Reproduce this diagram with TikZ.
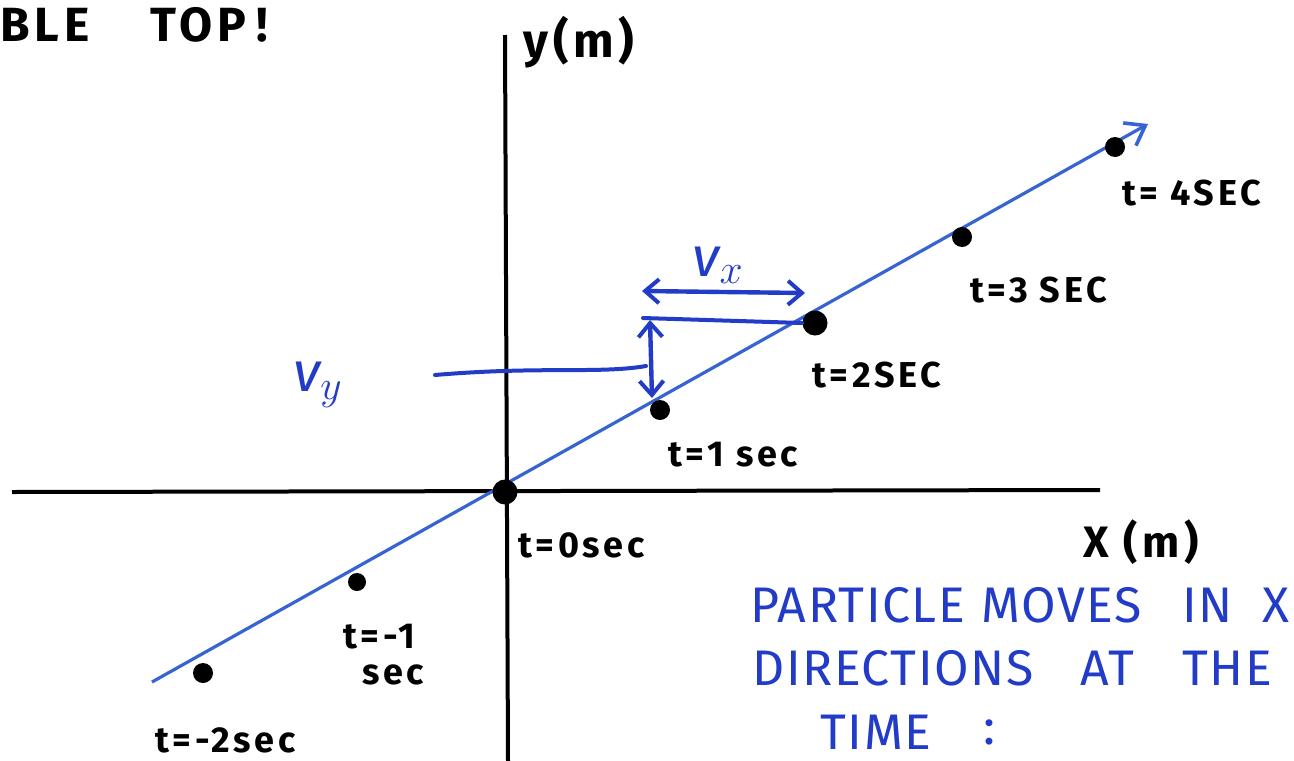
\documentclass[tikz,border=0pt]{standalone}
\usepackage{fontspec}
\setmainfont{Fira Sans}
\newfontfamily\hand[LetterSpace=10]{Fira Sans}
\newfontfamily\handnote[LetterSpace=3]{Fira Sans}
\usetikzlibrary{arrows.meta}
\definecolor{penblue}{RGB}{35,60,200}
\definecolor{lineblue}{RGB}{55,100,210}
\tikzset{
  axis/.style={line width=2pt, black},
  dotmark/.style={circle, fill=black, inner sep=0pt, minimum size=10pt},
  bigdot/.style={circle, fill=black, inner sep=0pt, minimum size=12.5pt},
  lbl/.style={anchor=west, inner sep=0pt, font=\hand\fontsize{18}{20}\selectfont\bfseries},
  biglbl/.style={anchor=west, inner sep=0pt, font=\hand\fontsize{24}{26}\selectfont\bfseries},
  bluelbl/.style={inner sep=0pt, text=penblue, font=\fontsize{28}{30}\selectfont},
  note/.style={anchor=west, inner sep=0pt, text=penblue, font=\handnote\fontsize{25}{27}\selectfont},
  pen/.style={penblue, line width=2.2pt, line cap=round},
  barbs/.style={{Straight Barb[length=7pt,width=12pt,line width=2pt]}-{Straight Barb[length=7pt,width=12pt,line width=2pt]}}
}
\begin{document}
\begin{tikzpicture}[x=0.5pt,y=-0.5pt]
\useasboundingbox (0,0) rectangle (1294,760);
\clip (0,0) rectangle (1294,760);
\fill[white] (0,0) rectangle (1294,760);
% axes
\coordinate (ytop) at (505,35);
\coordinate (ybot) at (508,762);
\coordinate (xl) at (12,492);
\coordinate (xr) at (1100,490);
\draw[axis] (ytop) -- (ybot);
\draw[axis] (xl) -- (xr);
% trajectory
\coordinate (ls) at (152,682);
\coordinate (le) at (1148,124);
\draw[lineblue, line width=1.6pt, -{Straight Barb[length=9pt,width=13pt,line width=1.8pt]}] (ls) -- (le);
% dots
\node[bigdot] (d0) at (505,492) {};
\node[dotmark] (d1) at (660,410) {};
\node[bigdot] (d2) at (815,323) {};
\node[dotmark] (d3) at (962,237) {};
\node[dotmark] (d4) at (1115,147) {};
\node[dotmark, minimum size=9pt] (dm1) at (357,582) {};
\node[dotmark] (dm2) at (203,673) {};
% time labels
\node[lbl] (t0) at (518,545) {t=0sec};
\node[lbl] (t1) at (668,455) {t=1 sec};
\node[lbl] (t2) at (812,375) {t=2SEC};
\node[lbl] (t3) at (970,290) {t=3 SEC};
\node[lbl] (t4) at (1122,193) {t= 4SEC};
\node[lbl] (tm1) at (343,637) {t=-1};
\node[lbl] (tm1b) at (362,675) {sec};
\node[lbl] (tm2) at (155,740) {t=-2sec};
% axis labels
\node[lbl, font=\hand\fontsize{22}{24}\selectfont\bfseries] (xlab) at (1083,542) {X (m)};
\node[biglbl] (ylab) at (523,42) {y(m)};
\node[biglbl] (title1) at (0,25) {BLE};
\node[biglbl] (title2) at (150,25) {TOP};
\node[biglbl] (title3) at (256,25) {!};
% velocity components
\coordinate (hl) at (643,318);
\draw[pen, line width=2pt] (hl) -- (d2.west);
\coordinate (vxl) at (642,291);
\coordinate (vxr) at (805,293);
\draw[pen, barbs] (vxl) -- (vxr);
\node[bluelbl] (vx) at (718,265) {$\mathit{v}_{x}$};
\coordinate (vyt) at (650,320);
\coordinate (vyb) at (652,398);
\draw[pen, barbs] (vyt) -- (vyb);
\node[bluelbl] (vy) at (318,385) {$\mathit{v}_{y}$};
\coordinate (lead0) at (435,375);
\coordinate (lead1) at (646,366);
\draw[pen, line width=2pt] (lead0) .. controls (540,366) and (600,374) .. (lead1);
% note
\node[note] (n1a) at (750,605) {PARTICLE};
\node[note] (n1b) at (981,605) {MOVES};
\node[note] (n1c) at (1182,605) {IN};
\node[note] (n1d) at (1262,605) {X};
\node[note] (n2a) at (752,668) {DIRECTIONS};
\node[note] (n2b) at (1080,668) {AT};
\node[note] (n2c) at (1182,668) {THE};
\node[note] (n3a) at (820,732) {TIME};
\node[note] (n3b) at (983,732) {:};
\end{tikzpicture}
\end{document}
